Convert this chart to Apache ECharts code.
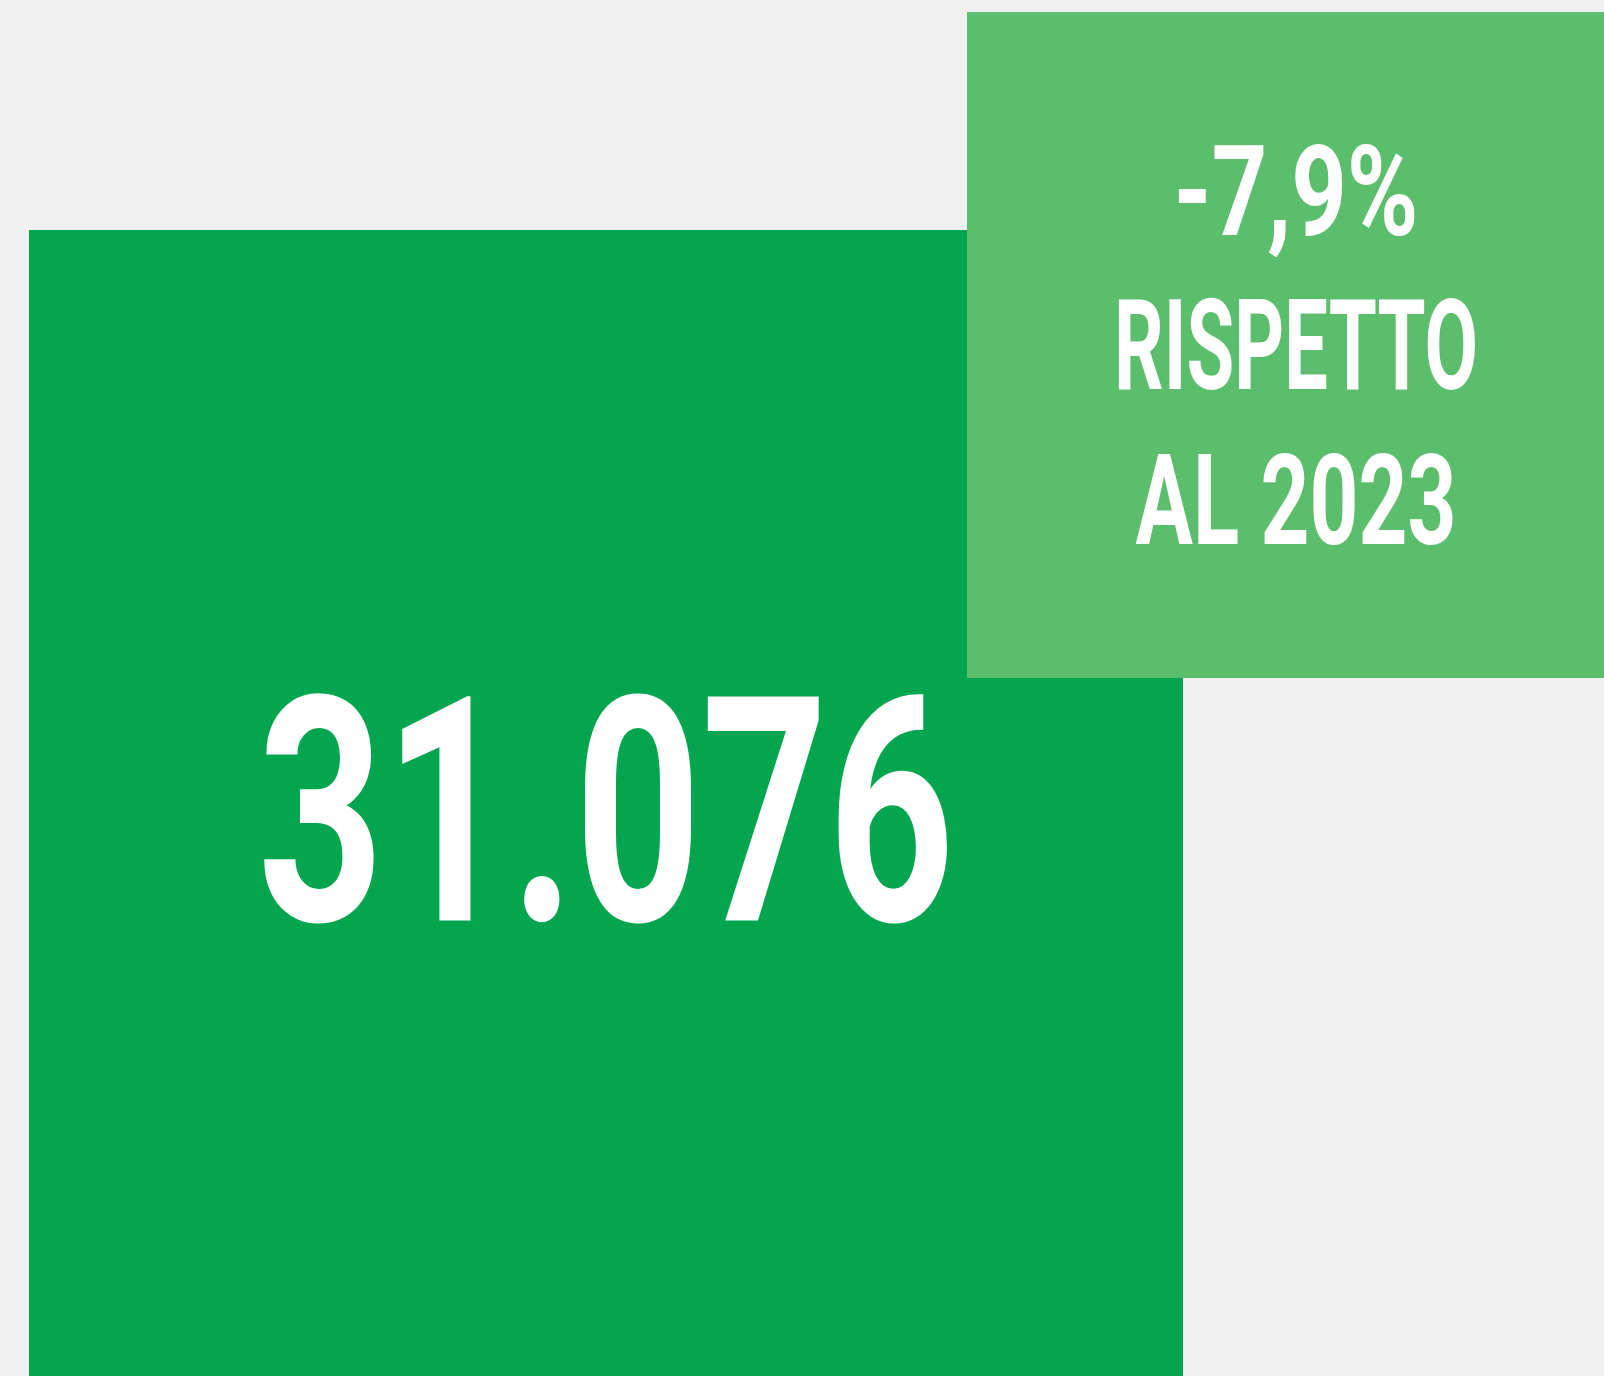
<!DOCTYPE html>
<html>
<head>
<meta charset="utf-8">
<script src="https://cdn.jsdelivr.net/npm/echarts@6/dist/echarts.min.js"></script>
<style>
html,body{margin:0;padding:0;background:#f0f0f0;}
#chart{width:1604px;height:1376px;}
</style>
</head>
<body>
<div id="chart"></div>
<script>
// Data
const mainValue = ['31.076'];
const changeValue = ['-7,9%'];
const changeLabel = ['RISPETTO', 'AL 2023'];

const FONT_FAMILY = 'Roboto';
const ctx = document.createElement('canvas').getContext('2d');
function fitScale(text, size, targetWidth) {
  ctx.font = 'bold ' + size + 'px ' + FONT_FAMILY;
  const w = ctx.measureText(text).width;
  return targetWidth / w;
}

function textEl(text, cx, capCenter, size, targetWidth) {
  return {
    type: 'text',
    x: cx, y: capCenter + 0.107 * size,
    scaleX: fitScale(text, size, targetWidth),
    style: {
      text: text,
      fill: '#ffffff',
      font: 'bold ' + size + 'px ' + FONT_FAMILY,
      textAlign: 'center',
      textVerticalAlign: 'middle'
    },
    z: 10
  };
}

const chart = echarts.init(document.getElementById('chart'), null, {renderer: 'canvas'});
const smallLines = [changeValue[0]].concat(changeLabel);
const smallWidths = [245, 364, 321];
const smallCenters = [190, 344, 499];

const graphic = [
  { type: 'rect', shape: {x: 29, y: 230, width: 1154, height: 1146}, style: {fill: '#03a64e'}, z: 1 },
  { type: 'rect', shape: {x: 967, y: 12, width: 637, height: 666}, style: {fill: '#5bbe6c'}, z: 2 },
  textEl(mainValue[0], 606, 808, 315, 697)
];
smallLines.forEach(function (t, i) {
  graphic.push(textEl(t, 1296, smallCenters[i], 126, smallWidths[i]));
});

chart.setOption({
  backgroundColor: '#f0f0f0',
  animation: false,
  graphic: graphic
});
</script>
</body>
</html>
